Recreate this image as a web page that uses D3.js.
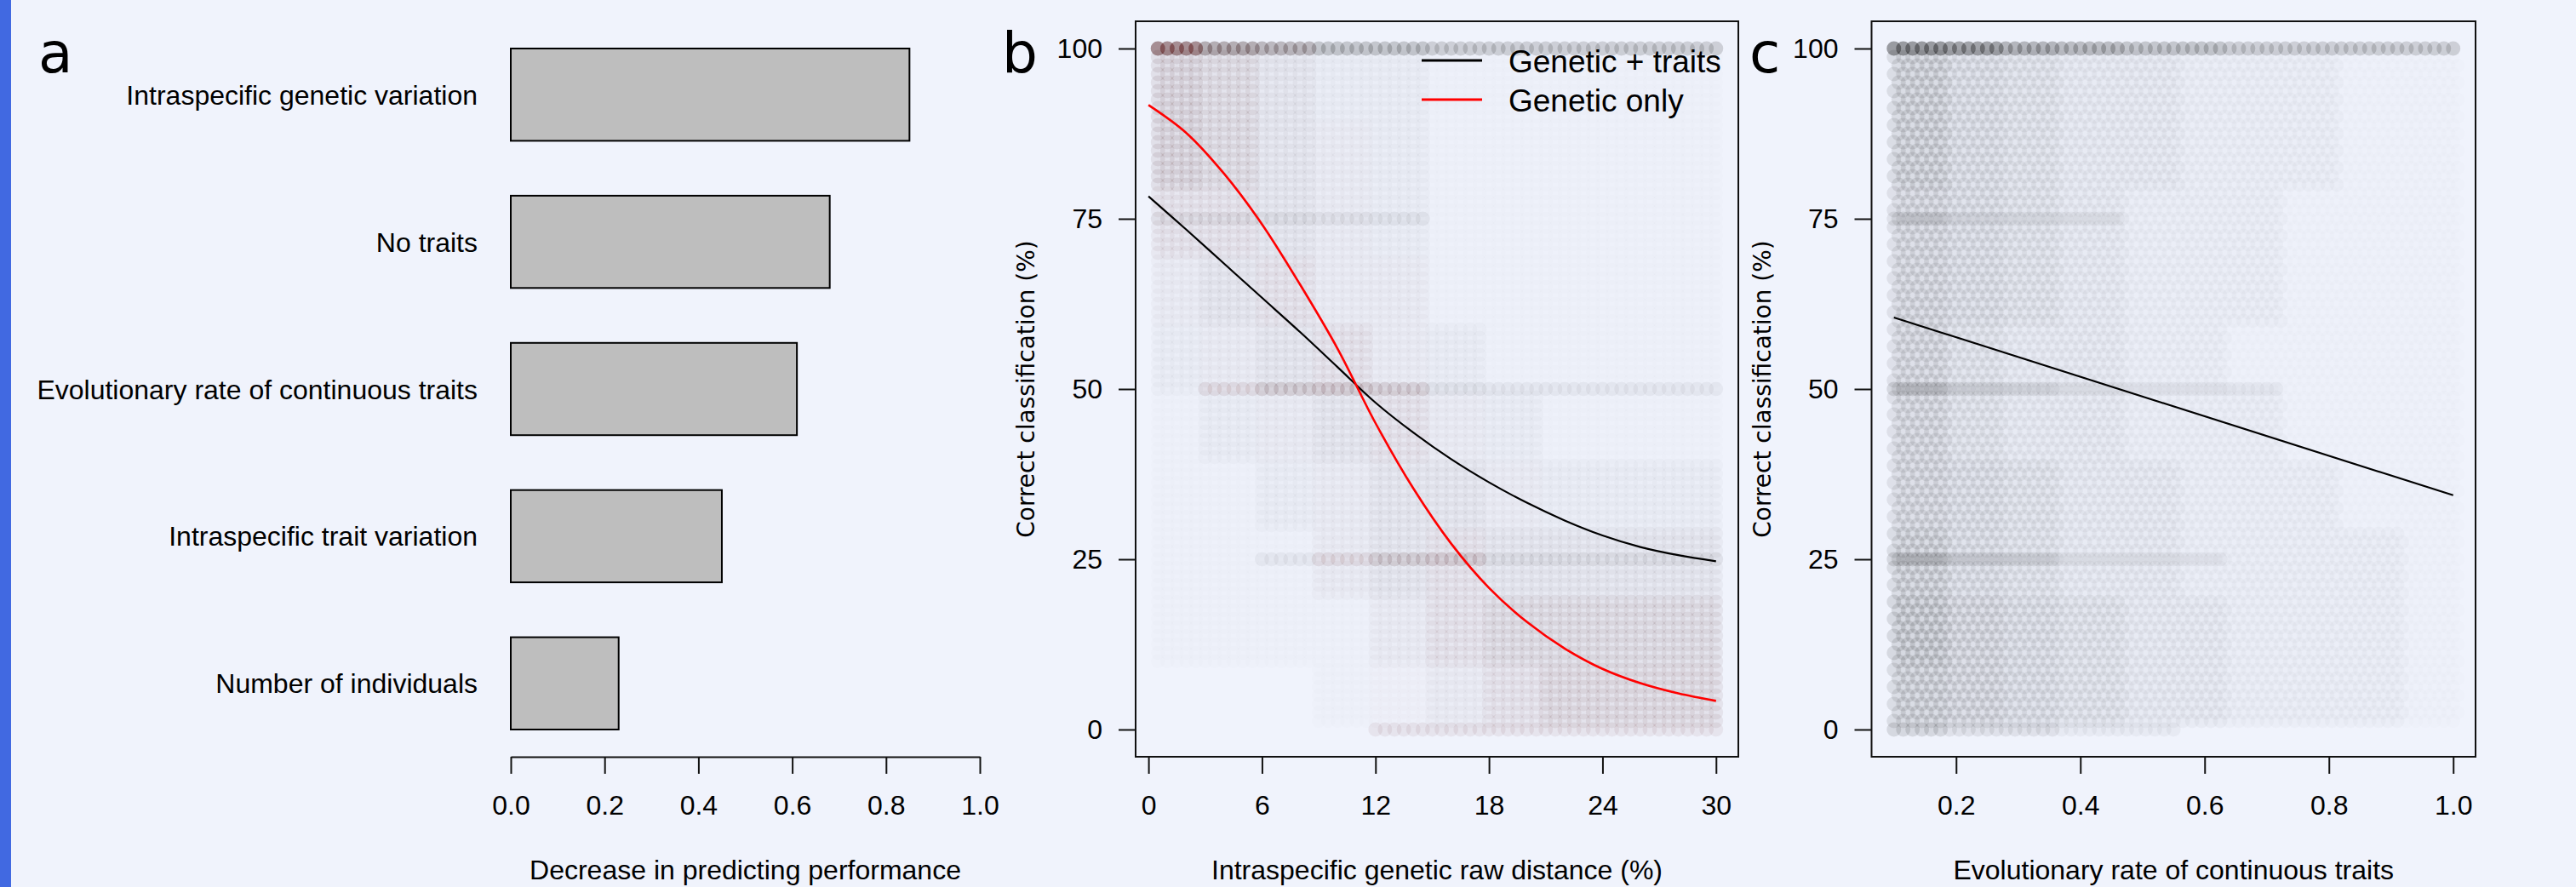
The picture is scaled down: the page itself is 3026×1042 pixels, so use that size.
<!DOCTYPE html>
<html>
<head>
<meta charset="utf-8">
<script src="https://cdn.jsdelivr.net/npm/d3@7"></script>
<style>
  html, body { margin: 0; padding: 0; background: #f0f3fc; }
  svg { display: block; }
</style>
</head>
<body>
<svg id="chart" width="3026" height="1042"></svg>
<script>
// panel a: variable importance
const factors = ["Intraspecific genetic variation", "No traits", "Evolutionary rate of continuous traits",
                 "Intraspecific trait variation", "Number of individuals"];
const decrease = [0.85, 0.68, 0.61, 0.45, 0.23];
const aTicks = [0, 0.2, 0.4, 0.6, 0.8, 1.0];

// panel b: fitted curves
const distX = [0, 2, 4, 6, 8, 10, 12, 14, 16, 18, 20, 22, 24, 26, 28, 30];
const fitTraits = [78.3, 73.4, 68.4, 63.4, 58.4, 53.2, 48.0, 43.6, 39.7, 36.3, 33.3, 30.7, 28.5, 26.8, 25.6, 24.7];
const fitGenetic = [91.7, 87.6, 81.6, 74.2, 65.4, 55.9, 45.0, 35.4, 27.3, 20.8, 15.8, 11.9, 8.9, 6.8, 5.3, 4.2];
const bTicksX = [0, 6, 12, 18, 24, 30];
const yTicks = [0, 25, 50, 75, 100];

// panel c: fitted line
const rateX = [0.1, 1.0];
const fitRate = [60.5, 34.4];
const cTicksX = [0.2, 0.4, 0.6, 0.8, 1.0];

// point clouds, shade 0-9
// rows: y bands 90-100 (top) ... 0-10 (bottom); columns: x bins
const bEdges = [0, 3, 6, 9, 12, 15, 18, 21, 24, 27, 30.1];
const bGray = [
  [5, 4, 3, 2, 2, 1, 1, 1, 1, 1],
  [5, 4, 3, 2, 2, 1, 1, 1, 1, 1],
  [3, 3, 3, 2, 2, 1, 1, 1, 1, 1],
  [2, 3, 3, 2, 2, 1, 1, 1, 1, 1],
  [2, 2, 3, 3, 2, 2, 1, 1, 1, 1],
  [1, 2, 2, 3, 3, 2, 2, 1, 1, 1],
  [1, 1, 2, 2, 3, 3, 2, 2, 2, 2],
  [1, 1, 1, 2, 3, 3, 3, 3, 3, 3],
  [1, 1, 1, 1, 2, 3, 4, 4, 4, 4],
  [0, 0, 0, 1, 1, 2, 3, 4, 4, 4]
];
const bRed = [
  [3, 2, 1, 0, 0, 0, 0, 0, 0, 0],
  [3, 2, 1, 1, 0, 0, 0, 0, 0, 0],
  [2, 2, 1, 1, 0, 0, 0, 0, 0, 0],
  [1, 1, 2, 1, 1, 0, 0, 0, 0, 0],
  [0, 1, 1, 2, 1, 0, 0, 0, 0, 0],
  [0, 0, 1, 1, 2, 1, 0, 0, 0, 0],
  [0, 0, 0, 1, 1, 1, 1, 0, 0, 0],
  [0, 0, 0, 1, 1, 2, 1, 1, 1, 1],
  [0, 0, 0, 0, 1, 2, 2, 2, 2, 2],
  [0, 0, 0, 0, 1, 1, 2, 3, 3, 3]
];
// rows of tied values (100, 75, 50, 25, 0 %)
const streakLevels = [100, 75, 50, 25, 0];
const bGrayStreaks = [
  [9, 7, 6, 5, 5, 4, 4, 4, 4, 4],
  [1, 1, 1, 1, 1, 0, 0, 0, 0, 0],
  [0, 1, 2, 2, 2, 1, 1, 1, 1, 1],
  [0, 0, 1, 1, 2, 2, 1, 1, 1, 1],
  [0, 0, 0, 0, 1, 1, 1, 1, 1, 1]
];
const bRedStreaks = [
  [6, 2, 1, 0, 0, 0, 0, 0, 0, 0],
  [0, 0, 0, 0, 0, 0, 0, 0, 0, 0],
  [0, 1, 1, 1, 1, 0, 0, 0, 0, 0],
  [0, 0, 0, 1, 1, 1, 0, 0, 0, 0],
  [0, 0, 0, 0, 1, 1, 1, 1, 1, 1]
];

const cEdges = [0.1, 0.19, 0.28, 0.37, 0.46, 0.55, 0.64, 0.73, 0.82, 0.91, 1.01];
const cGray = [
  [7, 5, 4, 3, 3, 2, 2, 2, 1, 1],
  [7, 5, 4, 3, 3, 2, 2, 2, 1, 1],
  [6, 5, 4, 3, 2, 2, 2, 1, 1, 1],
  [6, 5, 4, 3, 2, 2, 2, 1, 1, 1],
  [6, 4, 3, 3, 2, 2, 1, 1, 1, 1],
  [6, 4, 3, 3, 2, 2, 2, 1, 1, 1],
  [6, 5, 4, 3, 3, 2, 2, 2, 1, 1],
  [7, 5, 4, 3, 3, 2, 2, 2, 2, 1],
  [8, 6, 5, 4, 3, 3, 2, 2, 2, 1],
  [7, 6, 5, 4, 3, 3, 2, 2, 2, 1]
];
const cGrayStreaks = [
  [10, 9, 7, 6, 5, 5, 4, 4, 4, 4],
  [2, 1, 1, 1, 0, 0, 0, 0, 0, 0],
  [3, 2, 2, 1, 1, 1, 1, 0, 0, 0],
  [3, 2, 2, 1, 1, 1, 0, 0, 0, 0],
  [3, 2, 2, 1, 1, 0, 0, 0, 0, 0]
];

const sans = "'Liberation Sans', Arial, Helvetica, sans-serif";
const dejavu = "'DejaVu Sans', Verdana, sans-serif";
const svg = d3.select("#chart");

svg.append("rect").attr("x", 0).attr("y", 0).attr("width", 13).attr("height", 1042).attr("fill", "#4169e1");

const plotTop = 25, plotBottom = 889;

// ---------- panel a ----------
const xA = d3.scaleLinear().domain([0, 1]).range([600, 1151]);
const yA = d3.scaleBand().domain(factors).range([plotTop - 0.25, plotBottom + 0.25])
             .paddingInner(0.373).paddingOuter(0.1865);

svg.append("g").selectAll("rect").data(factors).join("rect")
   .attr("x", xA(0))
   .attr("y", d => yA(d))
   .attr("width", (d, i) => xA(decrease[i]) - xA(0))
   .attr("height", yA.bandwidth())
   .attr("fill", "#bebebe")
   .attr("stroke", "#000")
   .attr("stroke-width", 2);

svg.append("g").selectAll("text").data(factors).join("text")
   .attr("x", 561)
   .attr("y", d => yA(d) + yA.bandwidth() / 2 + 11.5)
   .attr("text-anchor", "end")
   .attr("font-family", sans)
   .attr("font-size", 32)
   .text(d => d);

function styleAxis(g) {
  g.attr("font-family", sans).attr("font-size", 32);
  g.selectAll("line, path").attr("stroke", "#111").attr("stroke-width", 2);
  g.selectAll("text").attr("fill", "#000");
}

svg.append("g")
   .attr("transform", `translate(0, ${plotBottom})`)
   .call(d3.axisBottom(xA).tickValues(aTicks).tickSize(20).tickSizeOuter(0)
           .tickPadding(25).tickFormat(d3.format(".1f")))
   .call(styleAxis);

svg.append("text").attr("x", (xA(0) + xA(1)) / 2).attr("y", 1033)
   .attr("text-anchor", "middle").attr("font-family", sans).attr("font-size", 32)
   .text("Decrease in predicting performance");

svg.append("text").attr("x", 45).attr("y", 85)
   .attr("font-family", dejavu).attr("font-size", 66).text("a");

// ---------- shared bits for b and c ----------
const latticeRows = d3.range(1.25, 100, 1.25);   // dot rows used to render the shade grids
const cloudAlpha = d => 0.008 * Math.pow(d, 1.25);
const streakAlpha = d => 0.036 * d;

function binOf(edges, v) {
  return Math.max(0, Math.min(edges.length - 2, d3.bisectRight(edges, v) - 1));
}

function drawCloud(g, x, y, cols, edges, shade, color, shift, k) {
  const pts = [];
  latticeRows.forEach((v, r) => {
    const row = 9 - Math.min(9, Math.floor(v / 10));
    cols.forEach(c => {
      const d = shade[row][binOf(edges, c)];
      if (d > 0) pts.push({ cx: c + (r % 2 ? shift : 0), cy: v, a: k * cloudAlpha(d) });
    });
  });
  g.append("g").selectAll("circle").data(pts).join("circle")
   .attr("cx", p => x(p.cx)).attr("cy", p => y(p.cy)).attr("r", 8.5)
   .attr("fill", color).attr("fill-opacity", p => p.a);
}

function drawStreaks(g, x, y, cols, edges, shade, color, k) {
  const pts = [];
  streakLevels.forEach((lev, j) => {
    cols.forEach(c => {
      const d = shade[j][binOf(edges, c)];
      if (d > 0) pts.push({ cx: c, cy: lev, a: k * streakAlpha(d) });
    });
  });
  g.append("g").selectAll("circle").data(pts).join("circle")
   .attr("cx", p => x(p.cx)).attr("cy", p => y(p.cy)).attr("r", 8.5)
   .attr("fill", color).attr("fill-opacity", p => p.a);
}

function drawFrame(x, y, xTicks, xFmt, xTitle, letter, letterX) {
  const [x0, x1] = x.range();
  const gx = svg.append("g").attr("transform", `translate(0, ${plotBottom})`)
     .call(d3.axisBottom(x).tickValues(xTicks).tickSize(20).tickPadding(25).tickFormat(xFmt))
     .call(styleAxis);
  gx.select(".domain").remove();
  const gy = svg.append("g").attr("transform", `translate(${x0}, 0)`)
     .call(d3.axisLeft(y).tickValues(yTicks).tickSize(20).tickPadding(19))
     .call(styleAxis);
  gy.select(".domain").remove();

  svg.append("rect").attr("x", x0).attr("y", plotTop).attr("width", x1 - x0).attr("height", plotBottom - plotTop)
     .attr("fill", "none").attr("stroke", "#111").attr("stroke-width", 2);

  svg.append("text").attr("x", (x0 + x1) / 2).attr("y", 1033)
     .attr("text-anchor", "middle").attr("font-family", sans).attr("font-size", 32)
     .text(xTitle);
  svg.append("text")
     .attr("transform", `translate(${x0 - 119}, ${(plotTop + plotBottom) / 2}) rotate(-90)`)
     .attr("text-anchor", "middle").attr("font-family", dejavu).attr("font-size", 28)
     .text("Correct classification (%)");
  svg.append("text").attr("x", letterX).attr("y", 85)
     .attr("font-family", dejavu).attr("font-size", 66).text(letter);
}

// ---------- panel b ----------
const xB = d3.scaleLinear().domain([0.5 - 0.04 * 29.5, 30 + 0.04 * 29.5]).range([1334, 2042]);
const yB = d3.scaleLinear().domain([-4, 104]).range([plotBottom, plotTop]);
const bCols = d3.range(0.5, 30.01, 0.5);

const gB = svg.append("g");
drawCloud(gB, xB, yB, bCols, bEdges, bGray, "#000", 0, 1);
drawCloud(gB, xB, yB, bCols, bEdges, bRed, "#e00000", 0, 0.55);
drawStreaks(gB, xB, yB, bCols, bEdges, bGrayStreaks, "#000", 1);
drawStreaks(gB, xB, yB, bCols, bEdges, bRedStreaks, "#c00000", 0.6);

const lineB = d3.line().x(d => xB(d[0])).y(d => yB(d[1])).curve(d3.curveCatmullRom.alpha(0.5));
gB.append("path").datum(distX.map((v, i) => [v, fitTraits[i]]))
  .attr("d", lineB).attr("fill", "none").attr("stroke", "#000").attr("stroke-width", 2.2);
gB.append("path").datum(distX.map((v, i) => [v, fitGenetic[i]]))
  .attr("d", lineB).attr("fill", "none").attr("stroke", "#ff0000").attr("stroke-width", 2.6);

drawFrame(xB, yB, bTicksX, d3.format("d"), "Intraspecific genetic raw distance (%)", "b", 1177);

// legend
const legend = [["Genetic + traits", "#000", 71], ["Genetic only", "#ff0000", 117]];
legend.forEach(([lab, col, ly]) => {
  svg.append("line").attr("x1", 1670).attr("x2", 1741).attr("y1", ly).attr("y2", ly)
     .attr("stroke", col).attr("stroke-width", 3);
  svg.append("text").attr("x", 1772).attr("y", ly + 13.5)
     .attr("font-family", sans).attr("font-size", 37).text(lab);
});

// ---------- panel c ----------
const xC = d3.scaleLinear().domain([0.1 - 0.036, 1.0 + 0.036]).range([2198.5, 2908]);
const yC = d3.scaleLinear().domain([-4, 104]).range([plotBottom, plotTop]);
const cCols = d3.range(0.1, 1.0001, 0.015);

const gC = svg.append("g");
drawCloud(gC, xC, yC, cCols, cEdges, cGray, "#000", 0.0075, 1);
drawStreaks(gC, xC, yC, cCols, cEdges, cGrayStreaks, "#000", 1);

gC.append("path").datum(rateX.map((v, i) => [v, fitRate[i]]))
  .attr("d", d3.line().x(d => xC(d[0])).y(d => yC(d[1])))
  .attr("fill", "none").attr("stroke", "#000").attr("stroke-width", 2.2);

drawFrame(xC, yC, cTicksX, d3.format(".1f"), "Evolutionary rate of continuous traits", "c", 2055);
</script>
</body>
</html>
